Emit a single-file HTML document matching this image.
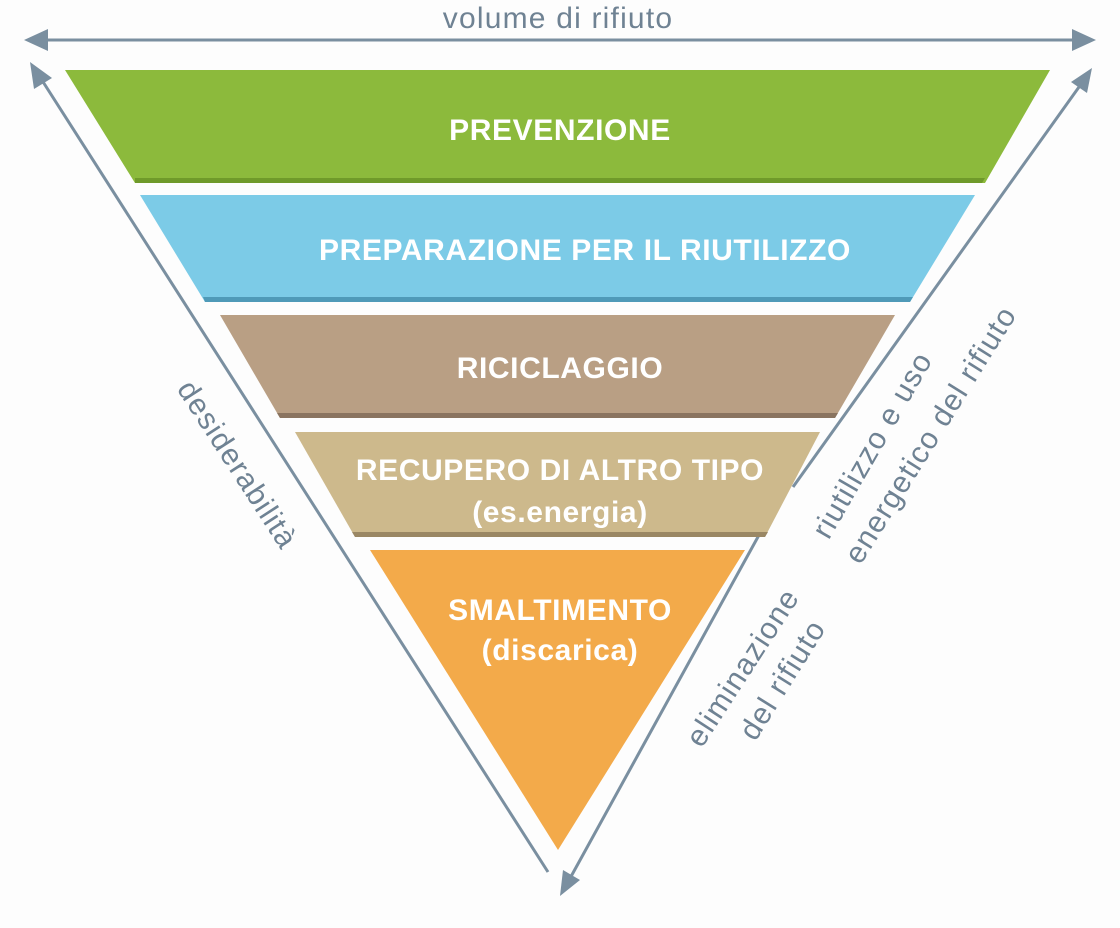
<!DOCTYPE html>
<html><head><meta charset="utf-8"><style>
html,body{margin:0;padding:0;background:#fdfdfd;}
svg{display:block}
text{font-family:"Liberation Sans",sans-serif;}
.b{fill:#fff;font-weight:bold;font-size:30px;text-anchor:middle;letter-spacing:0.6px}
.g{fill:#6f8293;font-size:30px;text-anchor:middle;letter-spacing:1.2px}
</style></head><body>
<svg width="1120" height="928" viewBox="0 0 1120 928" xmlns="http://www.w3.org/2000/svg">
<rect width="1120" height="928" fill="#fdfdfd"/>
<line x1="40" y1="40" x2="1080" y2="40" stroke="#7a8fa0" stroke-width="3"/>
<polygon points="24,40 48,29 48,51" fill="#7a8fa0"/>
<polygon points="1096,40 1072,29 1072,51" fill="#7a8fa0"/>
<text x="558" y="28" class="g">volume di rifiuto</text>
<line x1="38" y1="74" x2="548" y2="872" stroke="#7a8fa0" stroke-width="3"/>
<polygon points="30,62 34,89 52,78" fill="#7a8fa0"/>
<line x1="1084" y1="80" x2="793" y2="487" stroke="#7a8fa0" stroke-width="3"/>
<polygon points="1092,68 1071,82 1087,93" fill="#7a8fa0"/>
<line x1="770" y1="515" x2="568" y2="882" stroke="#7a8fa0" stroke-width="3"/>
<polygon points="560,896 563,870 580,880" fill="#7a8fa0"/>
<polygon points="65,70 1050,70 985,183 135,183" fill="#8cba3c"/>
<polygon points="135,178 985,178 982,183 135,183" fill="#6f9a2a"/>
<polygon points="140,195 975,195 910,302 205,302" fill="#7ccbe7"/>
<polygon points="203,297 913,297 910,302 205,302" fill="#4f9ab8"/>
<polygon points="220,315 895,315 835,418 280,418" fill="#b99f84"/>
<polygon points="277,413 838,413 835,418 280,418" fill="#8a7460"/>
<polygon points="295,432 820,432 765,537 355,537" fill="#cdb98c"/>
<polygon points="352,532 768,532 765,537 355,537" fill="#9a8764"/>
<polygon points="370,550 745,550 558,850" fill="#f3aa4a"/>
<text x="560" y="140" class="b">PREVENZIONE</text>
<text x="585" y="260" class="b">PREPARAZIONE PER  IL RIUTILIZZO</text>
<text x="560" y="378" class="b">RICICLAGGIO</text>
<text x="560" y="480" class="b">RECUPERO DI ALTRO TIPO</text>
<text x="560" y="522" class="b">(es.energia)</text>
<text x="560" y="620" class="b">SMALTIMENTO</text>
<text x="560" y="660" class="b">(discarica)</text>
<text class="g" transform="translate(229,470) rotate(57)">desiderabilità</text>
<text class="g" transform="translate(881,450) rotate(-60)">riutilizzo e uso</text>
<text class="g" transform="translate(939,440) rotate(-58)">energetico del rifiuto</text>
<text class="g" transform="translate(751,673) rotate(-57)">eliminazione</text>
<text class="g" transform="translate(791,685) rotate(-58)">del rifiuto</text>
</svg>
</body></html>
